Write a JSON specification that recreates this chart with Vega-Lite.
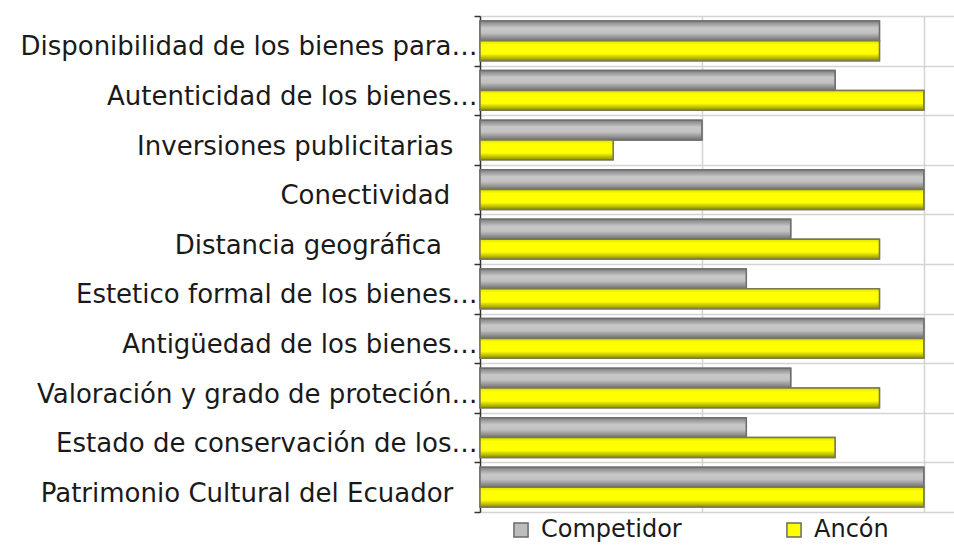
{
  "$schema": "https://vega.github.io/schema/vega-lite/v6.json",
  "width": 474,
  "height": 496,
  "autosize": {"type": "none"},
  "padding": {"left": 480, "top": 16, "right": 0, "bottom": 34},
  "background": "white",
  "config": {"view": {"stroke": null}},
  "data": {
    "values": [
      {"factor": "Disponibilidad de los bienes para…", "serie": "Competidor", "valor": 9},
      {"factor": "Disponibilidad de los bienes para…", "serie": "Ancón", "valor": 9},
      {"factor": "Autenticidad de los bienes…", "serie": "Competidor", "valor": 8},
      {"factor": "Autenticidad de los bienes…", "serie": "Ancón", "valor": 10},
      {"factor": "Inversiones publicitarias\u2009\u2800", "serie": "Competidor", "valor": 5},
      {"factor": "Inversiones publicitarias\u2009\u2800", "serie": "Ancón", "valor": 3},
      {"factor": "Conectividad\u00a0\u2800", "serie": "Competidor", "valor": 10},
      {"factor": "Conectividad\u00a0\u2800", "serie": "Ancón", "valor": 10},
      {"factor": "Distancia geográfica\u00a0\u00a0\u2800", "serie": "Competidor", "valor": 7},
      {"factor": "Distancia geográfica\u00a0\u00a0\u2800", "serie": "Ancón", "valor": 9},
      {"factor": "Estetico formal de los bienes…", "serie": "Competidor", "valor": 6},
      {"factor": "Estetico formal de los bienes…", "serie": "Ancón", "valor": 9},
      {"factor": "Antigüedad de los bienes…", "serie": "Competidor", "valor": 10},
      {"factor": "Antigüedad de los bienes…", "serie": "Ancón", "valor": 10},
      {"factor": "Valoración y grado de proteción…", "serie": "Competidor", "valor": 7},
      {"factor": "Valoración y grado de proteción…", "serie": "Ancón", "valor": 9},
      {"factor": "Estado de conservación de los…", "serie": "Competidor", "valor": 6},
      {"factor": "Estado de conservación de los…", "serie": "Ancón", "valor": 8},
      {"factor": "Patrimonio Cultural del Ecuador\u2009\u2800", "serie": "Competidor", "valor": 10},
      {"factor": "Patrimonio Cultural del Ecuador\u2009\u2800", "serie": "Ancón", "valor": 10}
    ]
  },
  "encoding": {
    "y": {
      "field": "factor",
      "type": "nominal",
      "sort": null,
      "scale": {"paddingInner": 0, "paddingOuter": 0},
      "axis": {
        "title": null,
        "tickBand": "extent",
        "grid": true,
        "gridColor": "#d4d4d4",
        "gridWidth": 1.5,
        "domainColor": "#333333",
        "domainWidth": 1.5,
        "tickColor": "#333333",
        "tickWidth": 1.5,
        "tickSize": 6,
        "labelPadding": -3,
        "labelOffset": 6,
        "labelFont": "DejaVu Sans",
        "labelFontSize": 26,
        "labelColor": "#1a1a1a",
        "labelLimit": 600
      }
    },
    "yOffset": {
      "field": "serie",
      "type": "nominal",
      "sort": ["Competidor", "Ancón"],
      "scale": {"domain": ["Competidor", "Ancón"], "paddingInner": 0, "paddingOuter": 0.25}
    },
    "x": {
      "field": "valor",
      "type": "quantitative",
      "scale": {"domain": [0, 10.68], "nice": false},
      "axis": {
        "title": null,
        "values": [5, 10],
        "labels": false,
        "ticks": false,
        "domain": false,
        "grid": true,
        "gridColor": "#d4d4d4",
        "gridWidth": 1.5
      }
    }
  },
  "layer": [
    {
      "mark": {"type": "bar", "stroke": "#7a7a7a", "strokeWidth": 1.5},
      "encoding": {
        "color": {
          "field": "serie",
          "type": "nominal",
          "sort": ["Competidor", "Ancón"],
          "scale": {"domain": ["Competidor", "Ancón"], "range": ["#bdbdbd", "#ffff00"]},
          "legend": {
            "title": null,
            "orient": "none",
            "legendX": 29,
            "legendY": 502,
            "direction": "horizontal",
            "symbolType": "square",
            "symbolSize": 200,
            "symbolStrokeColor": "#6a6a6a",
            "symbolStrokeWidth": 1.5,
            "labelFont": "DejaVu Sans",
            "labelFontSize": 24,
            "labelColor": "#1a1a1a",
            "labelOffset": 8,
            "columnPadding": 100,
            "labelLimit": 300
          }
        }
      }
    },
    {
      "transform": [{"filter": "datum.serie === 'Competidor'"}],
      "mark": {
        "type": "bar",
        "stroke": "#6e6e6e",
        "strokeWidth": 1.5,
        "fill": {"gradient": "linear", "x1": 0, "y1": 0, "x2": 0, "y2": 1, "stops": [
          {"offset": 0, "color": "#7e7e7e"},
          {"offset": 0.35, "color": "#c8c8c8"},
          {"offset": 0.6, "color": "#c2c2c2"},
          {"offset": 1, "color": "#6f6f6f"}
        ]}
      }
    },
    {
      "transform": [{"filter": "datum.serie === 'Ancón'"}],
      "mark": {
        "type": "bar",
        "stroke": "#7a7a4a",
        "strokeWidth": 1.5,
        "fill": {"gradient": "linear", "x1": 0, "y1": 0, "x2": 0, "y2": 1, "stops": [
          {"offset": 0, "color": "#e0e000"},
          {"offset": 0.2, "color": "#ffff00"},
          {"offset": 0.65, "color": "#ffff00"},
          {"offset": 1, "color": "#8c8c00"}
        ]}
      }
    }
  ]
}
